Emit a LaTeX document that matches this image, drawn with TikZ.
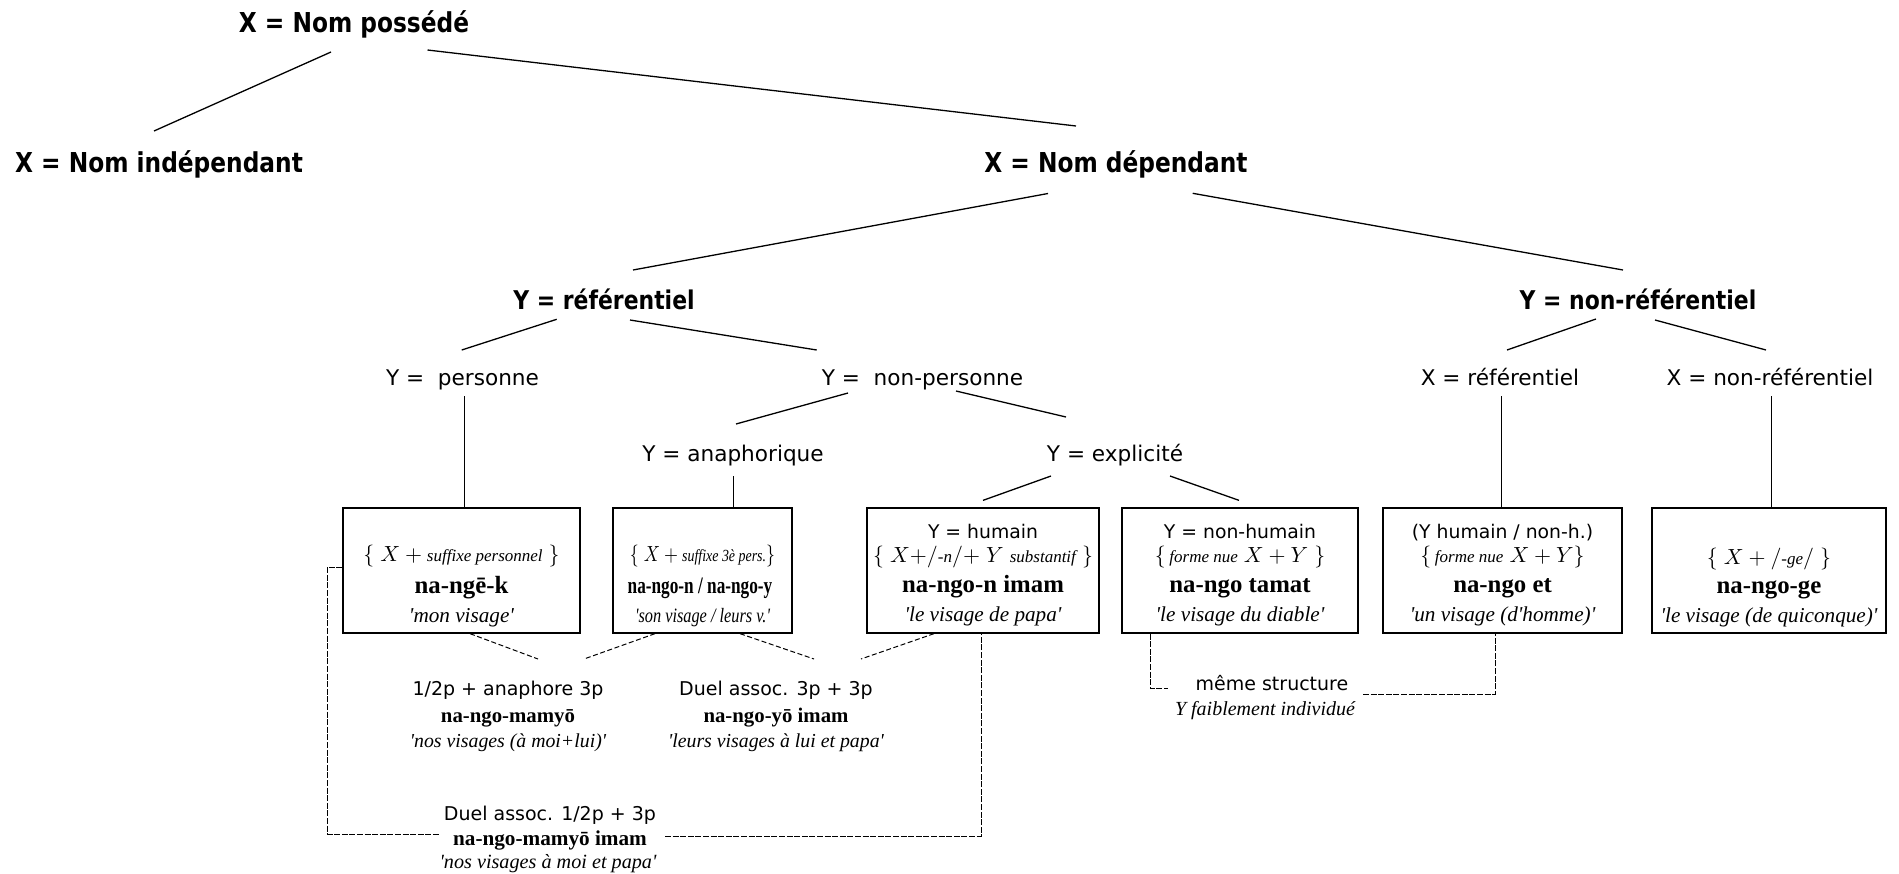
\documentclass[tikz,border=0pt]{standalone}
\usepackage{fontspec}
\setmainfont{Liberation Serif}
\newfontfamily\sansf{DejaVu Sans}
\newfontfamily\headf{DejaVu Sans}[FakeStretch=0.85]
\usetikzlibrary{calc,fit}
\newcommand{\smit}[1]{{\fontsize{8.5}{10}\selectfont\itshape #1}}
\newcommand{\sq}{\textquotesingle}
\newcommand{\narrow}[2]{\scalebox{#1}[1]{#2}}
\begin{document}
\begin{tikzpicture}[x=0.5pt,y=-0.5pt,
  h1/.style={font=\headf\bfseries\fontsize{13.7}{16}\selectfont, inner sep=0pt, anchor=base},
  h2/.style={font=\headf\bfseries\fontsize{12.9}{15}\selectfont, inner sep=0pt, anchor=base},
  lab/.style={font=\sansf\fontsize{10.8}{13}\selectfont, inner sep=0pt, anchor=base},
  bsans/.style={font=\sansf\fontsize{9.4}{11}\selectfont, inner sep=0pt, anchor=base},
  bmath/.style={font=\fontsize{11}{13}\selectfont, inner sep=0pt, anchor=base},
  bbold/.style={font=\bfseries\fontsize{12.4}{14}\selectfont, inner sep=0pt, anchor=base},
  bital/.style={font=\itshape\fontsize{10.6}{12}\selectfont, inner sep=0pt, anchor=base},
  usans/.style={font=\sansf\fontsize{9.5}{11}\selectfont, inner sep=0pt, anchor=base},
  ubold/.style={font=\bfseries\fontsize{10.4}{12}\selectfont, inner sep=0pt, anchor=base},
  uital/.style={font=\itshape\fontsize{9.9}{11}\selectfont, inner sep=0pt, anchor=base},
  box/.style={draw, inner sep=0pt, line width=0.65pt},
  tree/.style={line width=0.65pt},
  dsh/.style={line width=0.5pt, dash pattern=on 2.5pt off 1.3pt},
  frame/.style={line width=0.5pt, dash pattern=on 3pt off 0.8pt}]
\useasboundingbox (0,0) rectangle (1899,873);
\fill[white] (0,0) rectangle (1899,873);

% tree labels
\node[h1] (P) at (354,32) {X = Nom possédé};
\node[h1] (I) at (159,172) {X = Nom indépendant};
\node[h1] (D) at (1116,172) {X = Nom dépendant};
\node[h2] (YR) at (604,309) {Y = référentiel};
\node[h2] (YN) at (1638,309) {Y = non-référentiel};
\node[lab] (YP) at (462.5,385) {Y =\ \ personne};
\node[lab] (YNP) at (922.5,385) {Y =\ \ non-personne};
\node[lab] (XR) at (1500,385) {X = référentiel};
\node[lab] (XNR) at (1770,385) {X = non-référentiel};
\node[lab] (YA) at (733,461) {Y = anaphorique};
\node[lab] (YE) at (1115,461) {Y = explicité};

% boxes
\node[box, fit={(343,508) (580,633)}] (B1) {};
\node[bmath] (B1a) at (461.5,561) {$\{\;X+\mbox{\smit{suffixe personnel}}\;\}$};
\node[bbold] (B1b) at (461.5,593) {na-ngē-k};
\node[bital] (B1c) at (461.5,622) {\sq mon visage\sq};

\node[box, fit={(613,508) (792,633)}] (B2) {};
\node[bmath, font=\fontsize{10.6}{13}\selectfont] (B2a) at (702.5,561) {\narrow{0.82}{$\{\;X+\mbox{\smit{suffixe 3è pers.}}\}$}};
\node[bbold, font=\bfseries\fontsize{11.8}{14}\selectfont] (B2b) at (700,593) {\narrow{0.73}{na-ngo-n / na-ngo-y}};
\node[bital, font=\itshape\fontsize{10.2}{12}\selectfont] (B2c) at (702.5,622) {\narrow{0.8}{\sq son visage / leurs v.\sq}};

\node[box, fit={(867,508) (1099,633)}] (B3) {};
\node[bsans] (B3s) at (983,538) {Y = humain};
\node[bmath] (B3a) at (983,562) {$\{\;X{+}/\mbox{\smit{-n}}/{+}\;Y\;\mbox{\smit{substantif}}\;\}$};
\node[bbold] (B3b) at (983,592) {na-ngo-n imam};
\node[bital] (B3c) at (983,621) {\sq le visage de papa\sq};

\node[box, fit={(1122,508) (1358,633)}] (B4) {};
\node[bsans] (B4s) at (1240,538) {Y = non-humain};
\node[bmath] (B4a) at (1240,562) {$\{\,\mbox{\smit{forme nue}}\;X+Y\;\}$};
\node[bbold] (B4b) at (1240,592) {na-ngo tamat};
\node[bital] (B4c) at (1240,621) {\sq le visage du diable\sq};

\node[box, fit={(1383,508) (1622,633)}] (B5) {};
\node[bsans] (B5s) at (1502.5,538) {(Y humain / non-h.)};
\node[bmath] (B5a) at (1502.5,562) {$\{\,\mbox{\smit{forme nue}}\;X+Y\}$};
\node[bbold] (B5b) at (1502.5,592) {na-ngo et};
\node[bital] (B5c) at (1502.5,621) {\sq un visage (d\sq homme)\sq};

\node[box, fit={(1652,508) (1886,633)}] (B6) {};
\node[bmath] (B6a) at (1769,564) {$\{\;X+/\mbox{\smit{-ge}}/\;\}$};
\node[bbold] (B6b) at (1769,593) {na-ngo-ge};
\node[bital] (B6c) at (1769,622) {\sq le visage (de quiconque)\sq};

% labels under the boxes
\node[usans] (L1a) at (508,695) {1/2p + anaphore 3p};
\node[ubold] (L1b) at (508,722) {na-ngo-mamyō};
\node[uital] (L1c) at (508,747) {\sq nos visages (à moi+lui)\sq};

\node[usans] (L2a) at (776,695) {Duel assoc. 3p + 3p};
\node[ubold] (L2b) at (776,722) {na-ngo-yō imam};
\node[uital] (L2c) at (776,747) {\sq leurs visages à lui et papa\sq};

\node[usans] (L3a) at (550,820) {Duel assoc. 1/2p + 3p};
\node[ubold, font=\bfseries\fontsize{10.6}{12}\selectfont] (L3b) at (550,845) {na-ngo-mamyō imam};
\node[uital, font=\itshape\fontsize{10.1}{12}\selectfont] (L3c) at (548,868) {\sq nos visages à moi et papa\sq};

\node[usans] (L4a) at (1272,690) {même structure};
\node[bital, font=\itshape\fontsize{10}{12}\selectfont] (L4b) at (1265,715) {Y faiblement individué};

% tree connectors
\draw[tree] ($(P.base)+(-23,20)$) -- ($(I.base)+(-5,-41)$);
\draw[tree] ($(P.base)+(73.5,18)$) -- ($(D.base)+(-40,-46)$);
\draw[tree] ($(D.base)+(-68,21.5)$) -- ($(YR.base)+(29,-39)$);
\draw[tree] ($(D.base)+(76.7,21.3)$) -- ($(YN.base)+(-15,-39)$);
\draw[tree] ($(YR.base)+(-47.3,10.3)$) -- ($(YP.base)+(-0.8,-35)$);
\draw[tree] ($(YR.base)+(26,11)$) -- ($(YNP.base)+(-105.8,-35)$);
\draw[tree] ($(YNP.base)+(-74.5,8)$) -- ($(YA.base)+(3,-37)$);
\draw[tree] ($(YNP.base)+(33.5,6)$) -- ($(YE.base)+(-49,-44)$);
\draw[tree] ($(YE.base)+(-64,15)$) -- ($(B3.north)+(0,-7)$);
\draw[tree] ($(YE.base)+(55,15)$) -- ($(B4.north)+(-1,-7)$);
\draw[tree] ($(YN.base)+(-42,10)$) -- ($(XR.base)+(7,-35)$);
\draw[tree] ($(YN.base)+(17,11)$) -- ($(XNR.base)+(-4,-35)$);
\draw[tree] ($(YP.base)+(2,11)$) -- ($(B1.north)+(3,0)$);
\draw[tree] ($(YA.base)+(0.5,15)$) -- ($(B2.north)+(31,0)$);
\draw[tree] ($(XR.base)+(1.5,11)$) -- ($(B5.north)+(-1,0)$);
\draw[tree] ($(XNR.base)+(1.5,11)$) -- ($(B6.north)+(2.5,0)$);

% dashed connectors
\draw[dsh] ($(B1.south)+(8.5,0)$) -- ($(L1a.base)+(30,-36)$);
\draw[dsh] ($(B2.south)+(-47.5,0)$) -- ($(L1a.base)+(76,-36)$);
\draw[dsh] ($(B2.south)+(37.5,0)$) -- ($(L2a.base)+(38,-36)$);
\draw[dsh] ($(B3.south)+(-49,0)$) -- ($(L2a.base)+(85,-36)$);

\draw[frame] ($(B1.west)+(0,-3.5)$) -- ++(-15,0) |- ($(L3b.base)+(-110,-11)$);
\draw[frame] ($(L3b.base)+(115,-9)$) -| ($(B3.south)+(-2,0)$);
\draw[frame] ($(B4.south)+(-90,0)$) |- ($(L4a.base)+(-104,-2)$);
\draw[frame] ($(L4a.base)+(91,4)$) -| ($(B5.south)+(-7.5,0)$);
\end{tikzpicture}
\end{document}
